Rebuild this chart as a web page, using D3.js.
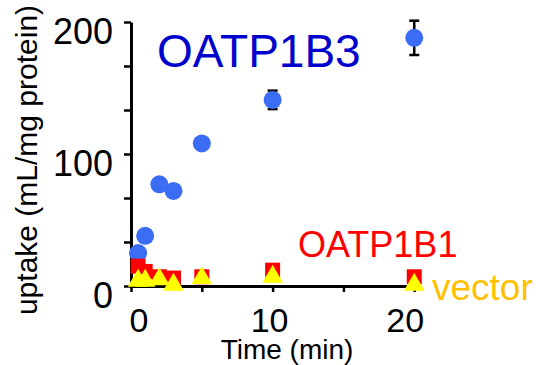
<!DOCTYPE html>
<html>
<head>
<meta charset="utf-8">
<script src="https://cdn.jsdelivr.net/npm/d3@7"></script>
<style>
  body { margin: 0; background: #fff; }
  svg { display: block; font-family: Arial, "Liberation Sans", sans-serif; }
</style>
</head>
<body>
<div id="chart"></div>
<script>
// time points (min)
var times = [0.5, 1, 2, 3, 5, 10, 20];
// uptake (mL/mg protein)
var oatp1b3 = [25, 38, 77, 72, 108, 141, 188];
var oatp1b3Err = [1, 2, 2, 3, 3, 7, 13];
var oatp1b1 = [15, 11, 7, 6, 7, 12, 7];
var vector = [4, 4, 5, 1, 6, 7, 1];

var yTicks = [0, 100, 200];
var xTicks = [0, 10, 20];

const width = 536, height = 365;

const svg = d3.select("#chart").append("svg")
    .attr("width", width)
    .attr("height", height);

const x = d3.scaleLinear().domain([0, 20.3]).range([131, 418.5]);
const y = d3.scaleLinear().domain([0, 200]).range([286, 22]);

// y axis: minor ticks every 200/6, labels at 0/100/200
const yAxis = svg.append("g")
    .attr("transform", "translate(131,0)")
    .call(d3.axisLeft(y)
        .tickValues(d3.range(7).map(i => i * 200 / 6))
        .tickSize(7)
        .tickSizeOuter(0)
        .tickPadding(11)
        .tickFormat(d => yTicks.some(t => Math.abs(t - d) < 1e-6) ? d : ""));
yAxis.select(".domain").attr("stroke-width", 3);
yAxis.selectAll(".tick line").attr("stroke-width", 2.5);
yAxis.selectAll(".tick text")
    .attr("font-size", 36)
    .attr("font-family", "Arial, 'Liberation Sans', sans-serif")
    .attr("fill", "#000")
    .attr("dy", "0.6em");

// x axis
const xAxis = svg.append("g")
    .attr("transform", "translate(0,286)")
    .call(d3.axisBottom(x)
        .tickValues([0, 5, 10, 15, 20])
        .tickSize(6)
        .tickSizeOuter(0)
        .tickFormat(""));
xAxis.select(".domain").attr("stroke-width", 3);
xAxis.selectAll(".tick line").attr("stroke-width", 2.5);

// x tick labels, top edge clipped like the source
svg.append("clipPath").attr("id", "xclip")
  .append("rect").attr("x", 0).attr("y", 309).attr("width", width).attr("height", 25);
svg.append("g").attr("clip-path", "url(#xclip)")
  .selectAll("text")
  .data(xTicks)
  .enter().append("text")
    .attr("x", d => x(d) + (d === 0 ? 8 : d === 20 ? -9 : -3))
    .attr("y", 332)
    .attr("text-anchor", "middle")
    .attr("font-size", 34)
    .text(d => d);

// axis titles
svg.append("text")
    .attr("x", 287)
    .attr("y", 359)
    .attr("text-anchor", "middle")
    .attr("font-size", 28)
    .text("Time (min)");

svg.append("text")
    .attr("transform", "translate(37,160) rotate(-90)")
    .attr("text-anchor", "middle")
    .attr("font-size", 30)
    .text("uptake (mL/mg protein)");

// OATP1B3 error bars
const eb = svg.append("g").attr("stroke", "#000").attr("stroke-width", 2.5);
times.forEach(function (t, i) {
    var cx = x(t), lo = y(oatp1b3[i] - oatp1b3Err[i]), hi = y(oatp1b3[i] + oatp1b3Err[i]);
    eb.append("line").attr("x1", cx).attr("x2", cx).attr("y1", lo).attr("y2", hi);
    eb.append("line").attr("x1", cx - 5).attr("x2", cx + 5).attr("y1", lo).attr("y2", lo);
    eb.append("line").attr("x1", cx - 5).attr("x2", cx + 5).attr("y1", hi).attr("y2", hi);
});

// OATP1B3 circles
svg.append("g").selectAll("circle")
    .data(times)
    .enter().append("circle")
    .attr("cx", d => x(d))
    .attr("cy", (d, i) => y(oatp1b3[i]))
    .attr("r", 9)
    .attr("fill", "#3a6cf4");

// OATP1B1 squares
svg.append("g").selectAll("rect")
    .data(times)
    .enter().append("rect")
    .attr("x", d => x(d) - 7.5)
    .attr("y", (d, i) => y(oatp1b1[i]) - 7.5)
    .attr("width", 15)
    .attr("height", 15)
    .attr("fill", "#ff0000");

// vector triangles
svg.append("g").selectAll("path")
    .data(times)
    .enter().append("path")
    .attr("transform", (d, i) => `translate(${x(d)},${y(vector[i])})`)
    .attr("d", d3.symbol().type(d3.symbolTriangle).size(185))
    .attr("fill", "#ffff00");

// series labels
svg.append("text")
    .attr("x", 157).attr("y", 67)
    .attr("font-size", 46)
    .attr("fill", "#0000cc")
    .text("OATP1B3");

svg.append("text")
    .attr("x", 298).attr("y", 257)
    .attr("font-size", 36)
    .attr("fill", "#ff0000")
    .text("OATP1B1");

svg.append("text")
    .attr("x", 432).attr("y", 300)
    .attr("font-size", 37)
    .attr("fill", "#ffc000")
    .text("vector");
</script>
</body>
</html>
